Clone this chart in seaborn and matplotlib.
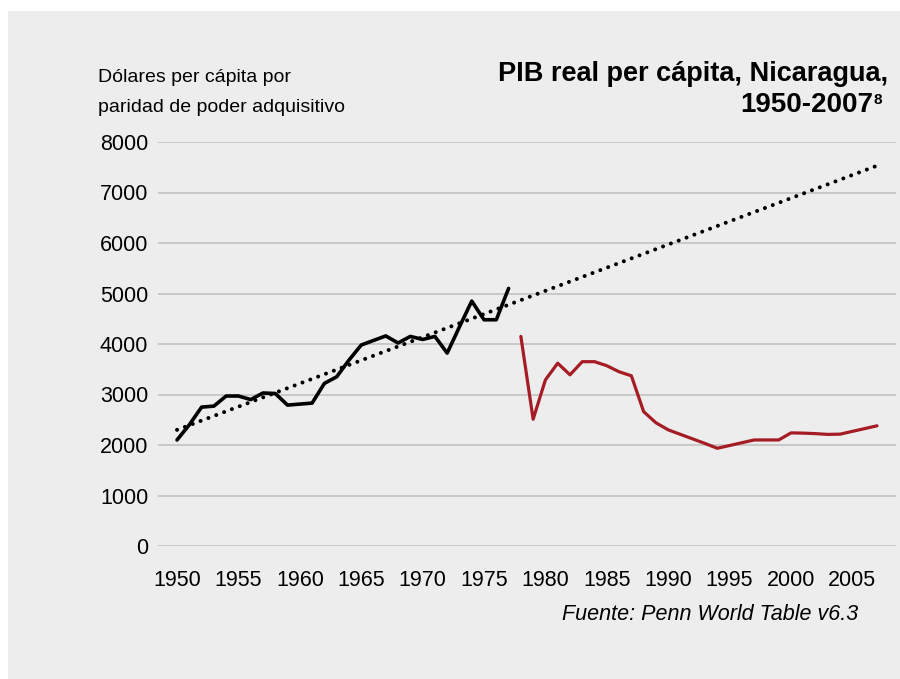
import numpy as np
import pandas as pd
import matplotlib
matplotlib.use('Agg')
import matplotlib.pyplot as plt
import seaborn as sns
from matplotlib.patches import Rectangle

# PIB real per cápita, dólares PPA
years_pre = list(range(1950, 1978))
gdp_pre = [2100, 2400, 2750, 2770, 2970, 2970, 2900, 3030, 3020, 2790,
           2810, 2830, 3220, 3350, 3680, 3980, 4070, 4160, 4020, 4150,
           4090, 4150, 3820, 4340, 4850, 4480, 4480, 5100]

years_post = list(range(1978, 2008))
gdp_post = [4150, 2510, 3290, 3620, 3390, 3650, 3650, 3570, 3450, 3370,
            2660, 2440, 2300, 2210, 2120, 2030, 1935, 1990, 2045, 2100,
            2100, 2100, 2240, 2235, 2225, 2210, 2215, 2270, 2325, 2380]

# tendencia lineal (extremos)
trend_years = [1950, 2007]
trend_vals = [2300, 7530]

y_ticks = [0, 1000, 2000, 3000, 4000, 5000, 6000, 7000, 8000]
x_ticks = [1950, 1955, 1960, 1965, 1970, 1975, 1980, 1985, 1990, 1995, 2000, 2005]

bg = '#ecedec'
red = '#a61c24'

sns.set_theme(style='white')
plt.rcParams['font.family'] = ['Liberation Sans', 'DejaVu Sans']
plt.rcParams['text.color'] = 'black'

fig = plt.figure(figsize=(9, 6.79), dpi=100)
fig.patch.set_facecolor('white')
fig.patches.append(Rectangle((8 / 900, 0), 1, (679 - 11) / 679,
                             transform=fig.transFigure, facecolor=bg,
                             edgecolor='none', zorder=-10))

ax = fig.add_axes([158 / 900, (679 - 546) / 679, (896 - 158) / 900, (546 - 142) / 679])
ax.set_facecolor('none')

df_pre = pd.DataFrame({'year': years_pre, 'gdp': gdp_pre})
df_post = pd.DataFrame({'year': years_post, 'gdp': gdp_post})
df_trend = pd.DataFrame({'year': trend_years, 'gdp': trend_vals})

sns.lineplot(data=df_trend, x='year', y='gdp', ax=ax, color='black', lw=2.9,
             linestyle=(0, (0.01, 2.07)), dash_capstyle='round', zorder=3)
sns.lineplot(data=df_pre, x='year', y='gdp', ax=ax, color='black', lw=2.6, zorder=4)
sns.lineplot(data=df_post, x='year', y='gdp', ax=ax, color=red, lw=2.3, zorder=4)

ax.set_xlim(1948.45, 2008.55)
ax.set_ylim(0, 8000)
ax.set_yticks(y_ticks)
ax.set_xticks(x_ticks)
ax.set_yticklabels([str(v) for v in y_ticks])
ax.set_xticklabels([str(v) for v in x_ticks])
ax.tick_params(axis='y', length=0, pad=7, labelsize=15.5, colors='black')
ax.tick_params(axis='x', length=0, pad=17, labelsize=15.5, colors='black')
ax.grid(axis='y', color='#c9c9c9', lw=1.4)
ax.grid(axis='x', visible=False)
for s in ax.spines.values():
    s.set_visible(False)
ax.set_xlabel('')
ax.set_ylabel('')

fig.text(98 / 900, 1 - 77 / 679, 'Dólares per cápita por', ha='left', va='center',
         fontsize=14)
fig.text(98 / 900, 1 - 107 / 679, 'paridad de poder adquisitivo', ha='left', va='center',
         fontsize=14)

fig.text(888 / 900, 1 - 74 / 679, 'PIB real per cápita, Nicaragua,', ha='right', va='center',
         fontsize=19.5, fontweight='bold')
fig.text(873 / 900, 1 - 105 / 679, '1950-2007', ha='right', va='center',
         fontsize=20, fontweight='bold')
fig.text(874 / 900, 1 - 100 / 679, '8', ha='left', va='center',
         fontsize=11, fontweight='bold')

fig.text(858 / 900, 1 - 614 / 679, 'Fuente: Penn World Table v6.3', ha='right', va='center',
         fontsize=15.5, style='italic')

fig.savefig('out.png', dpi=100, facecolor='white')
